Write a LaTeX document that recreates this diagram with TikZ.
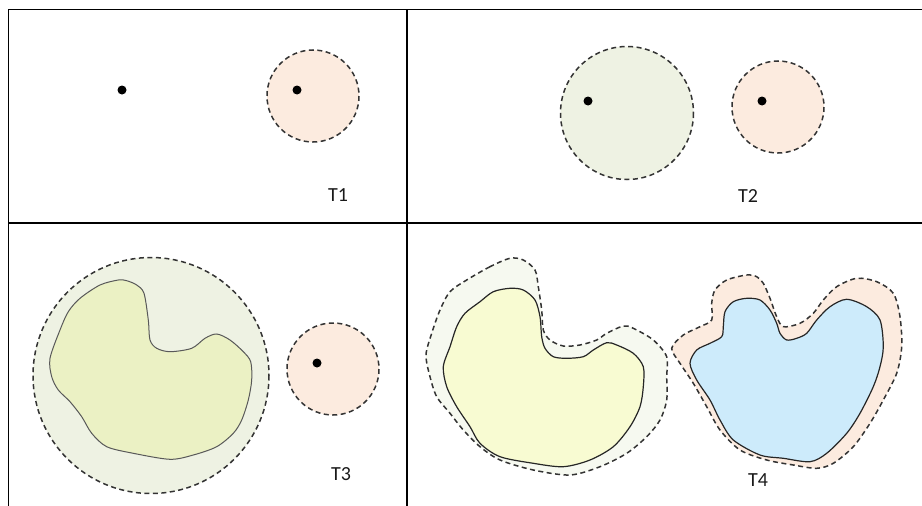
\documentclass[tikz,border=0pt]{standalone}
\usepackage{fontspec}
\setmainfont{Carlito}
\definecolor{peach}{HTML}{FCEBDF}
\definecolor{sage}{HTML}{EEF2E3}
\definecolor{limeblob}{HTML}{EBF1C4}
\definecolor{palegreen}{HTML}{F6F9F0}
\definecolor{paleyellow}{HTML}{F8FBD2}
\definecolor{skyblob}{HTML}{CDEBFB}
\definecolor{edgegray}{HTML}{333333}
\begin{document}
\begin{tikzpicture}[x=1pt,y=-1pt,
  frameline/.style={line width=1.8pt,black},
  divline/.style={line width=2.2pt,black},
  buffer/.style={draw=edgegray,line width=1.5pt,dash pattern=on 5pt off 3.5pt},
  blobline/.style={draw=black!65,line width=1pt},
  blobdark/.style={draw=black!85,line width=1.2pt},
  pt/.style={circle,fill=black,inner sep=0pt,minimum size=9pt},
  lbl/.style={font=\fontsize{20}{24}\selectfont,text=black!90,inner sep=0pt}]
\useasboundingbox (0,0) rectangle (922,506);
% frame
\draw[frameline] (8.5,506) -- (8.5,9.5) -- (922,9.5);
\draw[frameline] (8.5,223) -- (922,223);
\draw[divline] (407,9.5) -- (407,506);

% T1
\node[pt] (p1a) at (122,90) {};
\fill[peach] (313,96) circle (46);
\draw[buffer] (313,96) circle (46);
\node[pt] (p1b) at (297,90) {};
\node[lbl] (t1) at (338,195) {T1};

% T2
\fill[sage] (627,113) circle (66.5);
\draw[buffer] (627,113) circle (66.5);
\node[pt] (p2a) at (588,101) {};
\fill[peach] (778,107) circle (46);
\draw[buffer] (778,107) circle (46);
\node[pt] (p2b) at (762,101) {};
\node[lbl] (t2) at (748,196) {T2};

% T3
\fill[sage] (151,375.5) circle (118);
\draw[buffer] (151,375.5) circle (118);
\draw[blobline,fill=limeblob] plot[smooth cycle,tension=0.5] coordinates {
 (118.3,280) (100,285) (80,298.3) (68.3,311.7) (60,330) (50,358.3) (51.7,376.7)
 (58.3,390) (70,401.7) (81.7,416.7) (91.7,433.3) (106.7,446.7) (133.3,453.3)
 (170,459.3) (193.3,455) (216.7,446.7) (233.3,433.3) (241.7,420) (248.3,400)
 (251.7,380) (250.7,361.7) (243.3,351.7) (230,340) (216.7,334) (205,338.3)
 (191.7,348.3) (170,351.7) (156.7,348.3) (150,340) (148.3,320) (144,293.3)
 (136.7,285) (126.7,280.7)};
\fill[peach] (333,369) circle (46);
\draw[buffer] (333,369) circle (46);
\node[pt] (p3) at (317,363) {};
\node[lbl] (t3) at (341,474) {T3};

% T4 left
\path[buffer,fill=palegreen] plot[smooth cycle,tension=0.5] coordinates {
 (510,258.3) (490,266.7) (466.7,280) (450,291.7) (440,310) (431.7,333.3) (426,355)
 (430,376.7) (436.7,396.7) (450,413.3) (463.3,430) (480,446.7) (500,460)
 (533.3,470) (570,475) (600,466.7) (626.7,453.3) (646.7,436.7) (660,420)
 (666.7,400) (666.7,376.7) (666.7,356.7) (653.3,340) (633.3,328.3) (623.3,326)
 (606.7,333.3) (596.7,340) (580,345) (563.3,346) (550,340) (543.3,330)
 (541.7,310) (538.3,286.7) (535,270) (523.3,260)};
\draw[blobdark,fill=paleyellow] plot[smooth cycle,tension=0.5] coordinates {
 (510,288.3) (493.3,291.7) (480,301.7) (465,313.3) (456.7,326.7) (450,346.7)
 (443.3,366.7) (446.7,386.7) (456.7,406.7) (470,426.7) (480,443.3) (500,456.7)
 (533.3,463.3) (563.3,466.7) (590,460) (613.3,446.7) (630,426.7) (640,406.7)
 (643.3,386.7) (643.3,366.7) (633.3,353.3) (616.7,345) (606.7,342.7) (593.3,350)
 (583.3,356.7) (566.7,358.3) (553.3,356.7) (545,348.3) (541.7,336.7) (540,316.7)
 (535,300) (523.3,290)};

% T4 right
\path[buffer,fill=peach] plot[smooth cycle,tension=0.5] coordinates {
 (746.7,275) (726.7,280) (715,290) (711.7,303.3) (711.7,320) (700,326.7)
 (683.3,335) (671.7,348.3) (680,363.3) (693.3,383.3) (706.7,406.7) (720,430)
 (740,450) (766.7,460) (793.3,465) (816.7,468.3) (833.3,463.3) (853.3,446.7)
 (870,423.3) (883.3,400) (896.7,373.3) (901.7,346.7) (900,316.7) (893.3,293.3)
 (876.7,281.7) (856.7,278.3) (836.7,286.7) (823.3,300) (813.3,313.3) (800,323.3)
 (783.3,326.7) (776.7,316.7) (770,298.3) (763.3,283.3) (756.7,276.7)};
\draw[blobdark,fill=skyblob] plot[smooth cycle,tension=0.5] coordinates {
 (746.7,298.3) (733.3,301.7) (725,311.7) (723.3,326.7) (721.7,336.7) (710,343.3)
 (696.7,350) (690,363.3) (696.7,380) (710,400) (720,420) (733.3,440) (760,455)
 (783.3,458.3) (810,461.7) (826.7,453.3) (846.7,433.3) (860,413.3) (873.3,386.7)
 (880,366.7) (883.3,346.7) (880,320) (866.7,306.7) (846.7,299.3) (830,306.7)
 (816.7,320) (806.7,333.3) (796.7,338.3) (786.7,340) (780,333.3) (776.7,323.3)
 (770,310) (760,300)};
\node[lbl] (t4) at (758,480) {T4};
\end{tikzpicture}
\end{document}
